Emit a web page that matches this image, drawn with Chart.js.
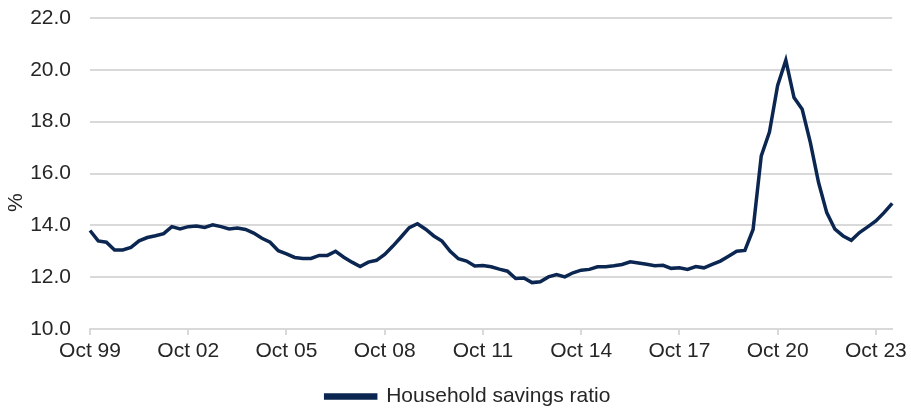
<!DOCTYPE html>
<html>
<head>
<meta charset="utf-8">
<script src="https://cdn.jsdelivr.net/npm/chart.js@4.4.0/dist/chart.umd.min.js"></script>
<style>
  html, body { margin: 0; padding: 0; background: #fff; }
  #wrap { width: 911px; height: 409px; }
</style>
</head>
<body>
<div id="wrap"><canvas id="myChart" width="911" height="409"></canvas></div>
<script>
// quarterly, Oct 99 .. Apr 24
const seriesName = 'Household savings ratio';
const savings = [
  13.8, 13.4, 13.35, 13.05, 13.05, 13.15, 13.4, 13.53, 13.6, 13.68,
  13.95, 13.86, 13.95, 13.97, 13.92, 14.02, 13.95, 13.86, 13.9, 13.84,
  13.7, 13.5, 13.35, 13.02, 12.9, 12.76, 12.72, 12.72, 12.84, 12.84,
  13.0, 12.77, 12.58, 12.41, 12.58, 12.65, 12.88, 13.2, 13.55, 13.91,
  14.06, 13.85, 13.59, 13.39, 13.0, 12.71, 12.62, 12.43, 12.45, 12.4,
  12.31, 12.23, 11.95, 11.97, 11.79, 11.82, 12.01, 12.1, 12.01, 12.17,
  12.27, 12.3, 12.4, 12.4, 12.44, 12.49, 12.59, 12.55, 12.5, 12.44,
  12.46, 12.34, 12.36, 12.3, 12.41, 12.36, 12.49, 12.62, 12.81, 13.0,
  13.03, 13.84, 16.68, 17.6, 19.4, 20.37, 18.93, 18.48, 17.19, 15.65,
  14.49, 13.85, 13.59, 13.42, 13.72, 13.94, 14.17, 14.49, 14.85
];
const tickLabels = ['Oct 99', 'Oct 02', 'Oct 05', 'Oct 08', 'Oct 11', 'Oct 14', 'Oct 17', 'Oct 20', 'Oct 23'];
const months = ['Jan', 'Apr', 'Jul', 'Oct'];

// category labels, one per quarter
const quarters = [];
let m = 3, yr = 1999;
for (let i = 0; i < savings.length; i++) {
  quarters.push(months[m] + ' ' + String(yr % 100).padStart(2, '0'));
  m++;
  if (m > 3) { m = 0; yr++; }
}

const navy = '#0b2751';
const grey = '#d9d9d9';
const txt = '#262626';
const fnt = { family: 'Liberation Sans, Arial, sans-serif', size: 21 };

// legend in the original sits a bit right of the canvas centre
const nudgeLegend = {
  id: 'nudgeLegend',
  afterLayout(chart) {
    if (chart.legend) chart.legend.left += 31;
  }
};

window.addEventListener('load', function () {
  const ctx = document.getElementById('myChart');
  new Chart(ctx, {
    type: 'line',
    data: {
      labels: quarters,
      datasets: [{
        label: seriesName,
        data: savings,
        borderColor: navy,
        backgroundColor: navy,
        borderWidth: 3.5,
        pointRadius: 0,
        tension: 0
      }]
    },
    options: {
      responsive: false,
      animation: false,
      layout: { padding: { left: 4, right: 10, top: 0, bottom: -8 } },
      plugins: {
        tooltip: { enabled: false },
        legend: {
          position: 'bottom',
          labels: {
            color: txt,
            font: fnt,
            boxWidth: 50,
            boxHeight: 3,
            padding: 4
          }
        }
      },
      scales: {
        x: {
          offset: false,
          border: { display: true, color: grey, width: 2 },
          grid: { drawOnChartArea: false, drawTicks: true, tickLength: 6, color: grey, lineWidth: 2 },
          afterFit: s => { s.height = 53; },
          ticks: {
            autoSkip: false,
            maxRotation: 0,
            color: txt,
            font: fnt,
            padding: 4,
            callback: function (v, i) {
              const l = this.getLabelForValue(v);
              return tickLabels.includes(l) ? l : null;
            }
          }
        },
        y: {
          min: 10,
          max: 22,
          border: { display: false },
          grid: { color: grey, lineWidth: 2, drawTicks: false },
          afterFit: s => { s.width = 86; s.paddingTop = 18; },
          title: { display: true, text: '%          ', color: txt, font: fnt, padding: 0 },
          ticks: {
            stepSize: 2,
            color: txt,
            font: fnt,
            padding: 19,
            callback: v => v.toFixed(1)
          }
        }
      }
    },
    plugins: [nudgeLegend]
  });
});
</script>
</body>
</html>
